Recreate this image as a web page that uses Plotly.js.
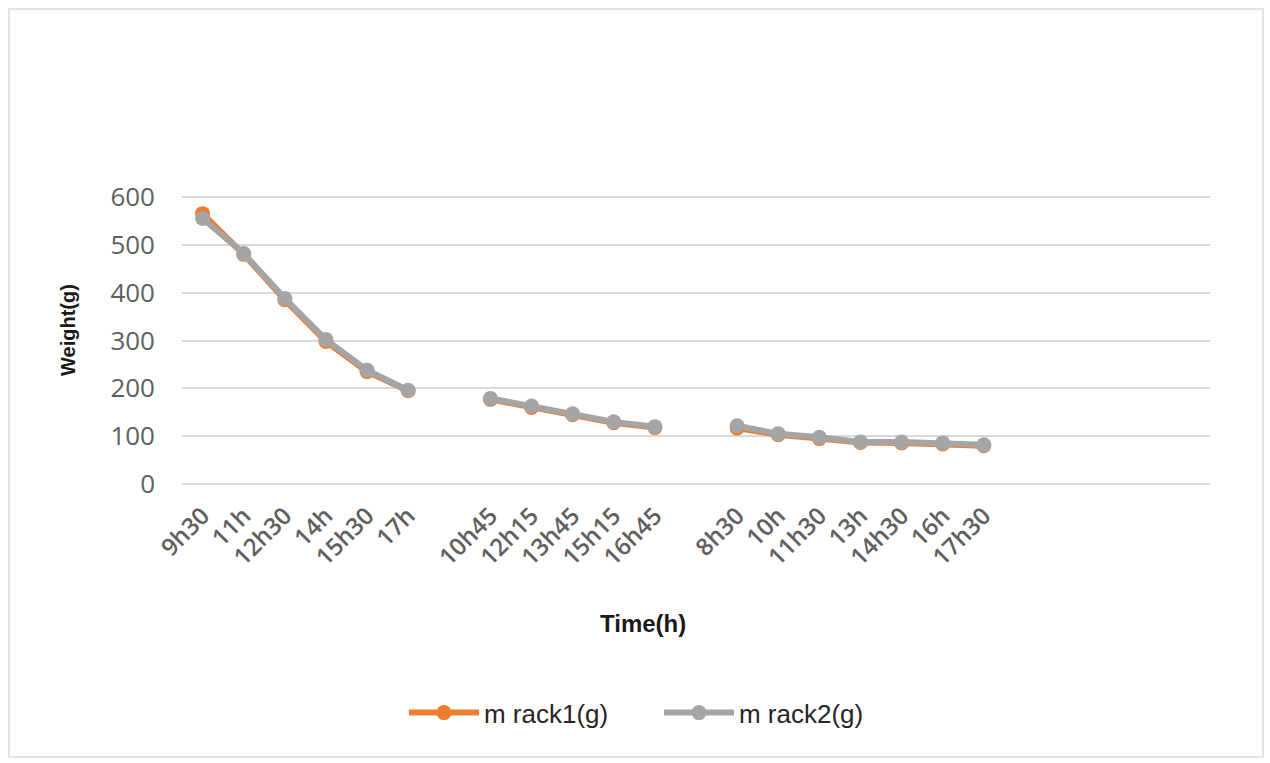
<!DOCTYPE html>
<html>
<head>
<meta charset="utf-8">
<script src="https://cdn.plot.ly/plotly-3.0.1.min.js"></script>
<style>
  html, body { margin: 0; padding: 0; background: #ffffff; }
  #chart { position: absolute; left: 0; top: 0; width: 1270px; height: 763px; }
  #frame { position: absolute; left: 8px; top: 8px; width: 1252px; height: 746px;
           border: 2px solid #e3e3e3; pointer-events: none; }
</style>
</head>
<body>
<div id="chart"></div>
<div id="frame"></div>
<script>
// Time categories (three days; a blank category separates the days)
const categories = ["9h30", "11h", "12h30", "14h", "15h30", "17h", " ",
                    "10h45", "12h15", "13h45", "15h15", "16h45", "  ",
                    "8h30", "10h", "11h30", "13h", "14h30", "16h", "17h30"];
// Weights in grams (null = day break)
const rack1 = [565, 480, 385, 298, 235, 195, null,
               177, 160, 145, 128, 118, null,
               117, 103, 95, 87, 86, 84, 80];
const rack2 = [555, 482, 388, 302, 238, 196, null,
               179, 163, 147, 130, 120, null,
               122, 105, 98, 88, 88, 86, 82];
const yTicks = [0, 100, 200, 300, 400, 500, 600];
const seriesNames = ["m rack1(g)", "m rack2(g)"];
const colors = ["#ED7D31", "#A5A5A5"];

const traces = [rack1, rack2].map((vals, i) => ({
  type: "scatter",
  mode: "lines+markers",
  name: seriesNames[i],
  x: categories,
  y: vals,
  connectgaps: false,
  line: { color: colors[i], width: 6 },
  marker: { color: colors[i], size: 15, symbol: "circle" },
  hoverinfo: "x+y+name"
}));

const layout = {
  width: 1270,
  height: 763,
  paper_bgcolor: "#ffffff",
  plot_bgcolor: "#ffffff",
  margin: { l: 182, r: 60, t: 195, b: 277, pad: 0 },
  showlegend: true,
  font: { family: "Open Sans, Liberation Sans, sans-serif", color: "#595959" },
  xaxis: {
    type: "category",
    categoryorder: "array",
    categoryarray: categories,
    range: [-0.5, 24.5],
    showgrid: false,
    zeroline: false,
    showline: false,
    ticks: "",
    tickangle: -45,
    ticklabelstandoff: 10,
    tickfont: { family: "Open Sans, sans-serif", size: 24, color: "#606060", weight: 600 },
    fixedrange: true
  },
  yaxis: {
    range: [-4, 604],
    tickvals: yTicks,
    showgrid: true,
    gridcolor: "#d9d9d9",
    gridwidth: 2,
    zeroline: false,
    showline: false,
    ticks: "",
    ticklabelstandoff: 26,
    tickfont: { family: "Open Sans, sans-serif", size: 26, color: "#606060" },
    fixedrange: true
  },
  legend: {
    orientation: "h",
    x: 0.464,
    xanchor: "center",
    y: -0.779,
    yanchor: "middle",
    font: { family: "Liberation Sans, Arial, sans-serif", size: 26, color: "#262626" },
    itemwidth: 70,
    entrywidth: 170,
    entrywidthmode: "pixels",
    traceorder: "normal",
    bgcolor: "rgba(0,0,0,0)"
  },
  annotations: [
    {
      text: "Time(h)",
      xref: "paper", yref: "paper",
      x: (643 - 182) / 1028, y: (484 - 621) / 291,
      xanchor: "center", yanchor: "middle",
      showarrow: false,
      font: { family: "Liberation Sans, Arial, sans-serif", size: 24, color: "#1a1a1a", weight: "bold" }
    },
    {
      text: "Weight(g)",
      xref: "paper", yref: "paper",
      x: (68 - 182) / 1028, y: (484 - 328) / 291,
      xanchor: "center", yanchor: "middle",
      textangle: -90,
      showarrow: false,
      font: { family: "Liberation Sans, Arial, sans-serif", size: 20, color: "#1a1a1a", weight: "bold" }
    }
  ]
};

Plotly.newPlot("chart", traces, layout, { displayModeBar: false });
</script>
</body>
</html>
